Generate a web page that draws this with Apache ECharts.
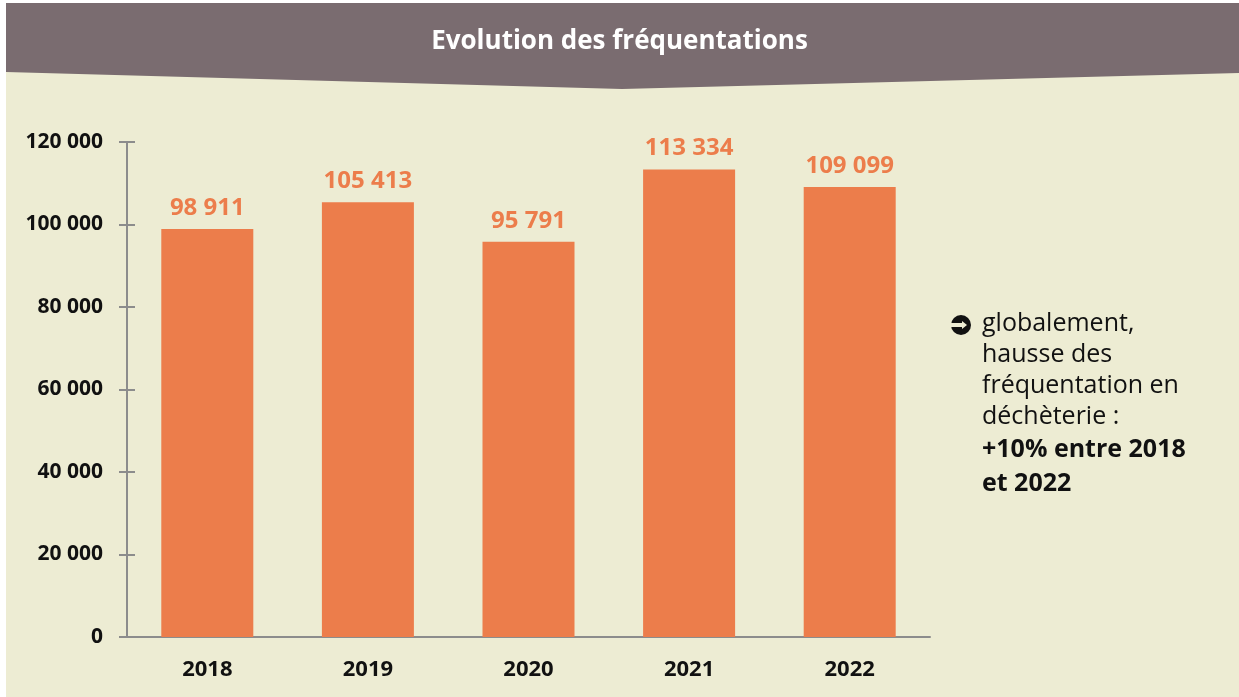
<!DOCTYPE html>
<html><head><meta charset="utf-8">
<style>html,body{margin:0;padding:0;background:#fff;}#c{width:1239px;height:697px;}</style>
<script src="https://cdn.jsdelivr.net/npm/echarts@6/dist/echarts.min.js"></script>
</head><body><div id="c"></div>
<script>
const title = 'Evolution des fréquentations';
const categories = ['2018', '2019', '2020', '2021', '2022'];
const visits = [98911, 105413, 95791, 113334, 109099];
const yTicks = [0, 20000, 40000, 60000, 80000, 100000, 120000];
const noteLines = ['globalement,', 'hausse des', 'fréquentation en', 'déchèterie :'];
const noteBold = ['+10% entre 2018', 'et 2022'];

function fmt(v){ return String(v).replace(/\B(?=(\d{3})+(?!\d))/g, ' '); }

const chart = echarts.init(document.getElementById('c'), null, {renderer:'canvas'});
const F = '"Open Sans", "Noto Sans", sans-serif';
const bx = 961, by = 325;
const graphics = [
  {type:'rect', z:-10, silent:true, shape:{x:6,y:3,width:1233,height:694}, style:{fill:'#edecd3'}},
  {type:'polygon', z:-5, silent:true, shape:{points:[[6,3],[1239,3],[1239,73],[622,89],[6,72]]}, style:{fill:'#7a6c70'}},
  {type:'text', z:10, left:'center', top:29, style:{text:title, fill:'#ffffff', font:'bold 26px '+F, letterSpacing:-0.6}},
  {type:'circle', z:10, silent:true, shape:{cx:bx, cy:by, r:10}, style:{fill:'#111'}},
  {type:'rect', z:11, silent:true, shape:{x:bx-11, y:by-2, width:13, height:4}, style:{fill:'#edecd3'}},
  {type:'polygon', z:11, silent:true, shape:{points:[[bx+1,by-4],[bx+6,by],[bx+1,by+4]]}, style:{fill:'#edecd3'}}
];
noteLines.forEach((t,i)=>graphics.push({type:'text', z:10, left:982, top:311+i*31, style:{text:t, fill:'#111', font:'25px '+F}}));
noteBold.forEach((t,i)=>graphics.push({type:'text', z:10, left:982, top:437+i*34, style:{text:t, fill:'#111', font:'bold 25px '+F}}));

const axisColor = '#8c8c8c';
chart.setOption({
  animation:false,
  backgroundColor:'transparent',
  graphic: graphics,
  grid:{left:127, right:309, top:142, bottom:60, containLabel:false},
  xAxis:{type:'category', data:categories,
    axisLine:{show:true, lineStyle:{color:axisColor, width:2}},
    axisTick:{show:false},
    axisLabel:{color:'#111', fontFamily:F, fontWeight:'bold', fontSize:22, margin:22, letterSpacing:1}
  },
  yAxis:[
    {type:'value', min:0, max:120000, interval:20000,
      axisLine:{show:true, lineStyle:{color:axisColor, width:2}},
      axisTick:{show:true, length:8, lineStyle:{color:axisColor, width:2}},
      splitLine:{show:false},
      axisLabel:{color:'#111', fontFamily:F, fontWeight:'bold', fontSize:21, margin:24, letterSpacing:2,
        formatter:v=>fmt(v)}
    },
    {type:'value', min:0, max:120000, interval:20000, position:'left', offset:0,
      axisLine:{show:false}, axisLabel:{show:false}, splitLine:{show:false},
      axisTick:{show:true, inside:true, length:8, lineStyle:{color:axisColor, width:2}}
    }
  ],
  series:[{type:'bar', data:visits, barWidth:92, itemStyle:{color:'#ec7d4b'},
    label:{show:true, position:'top', distance:9, color:'#ec7d4b', fontFamily:F, fontWeight:'bold', fontSize:24, letterSpacing:0.5,
      formatter:p=>fmt(p.value)}}]
});
</script></body></html>
